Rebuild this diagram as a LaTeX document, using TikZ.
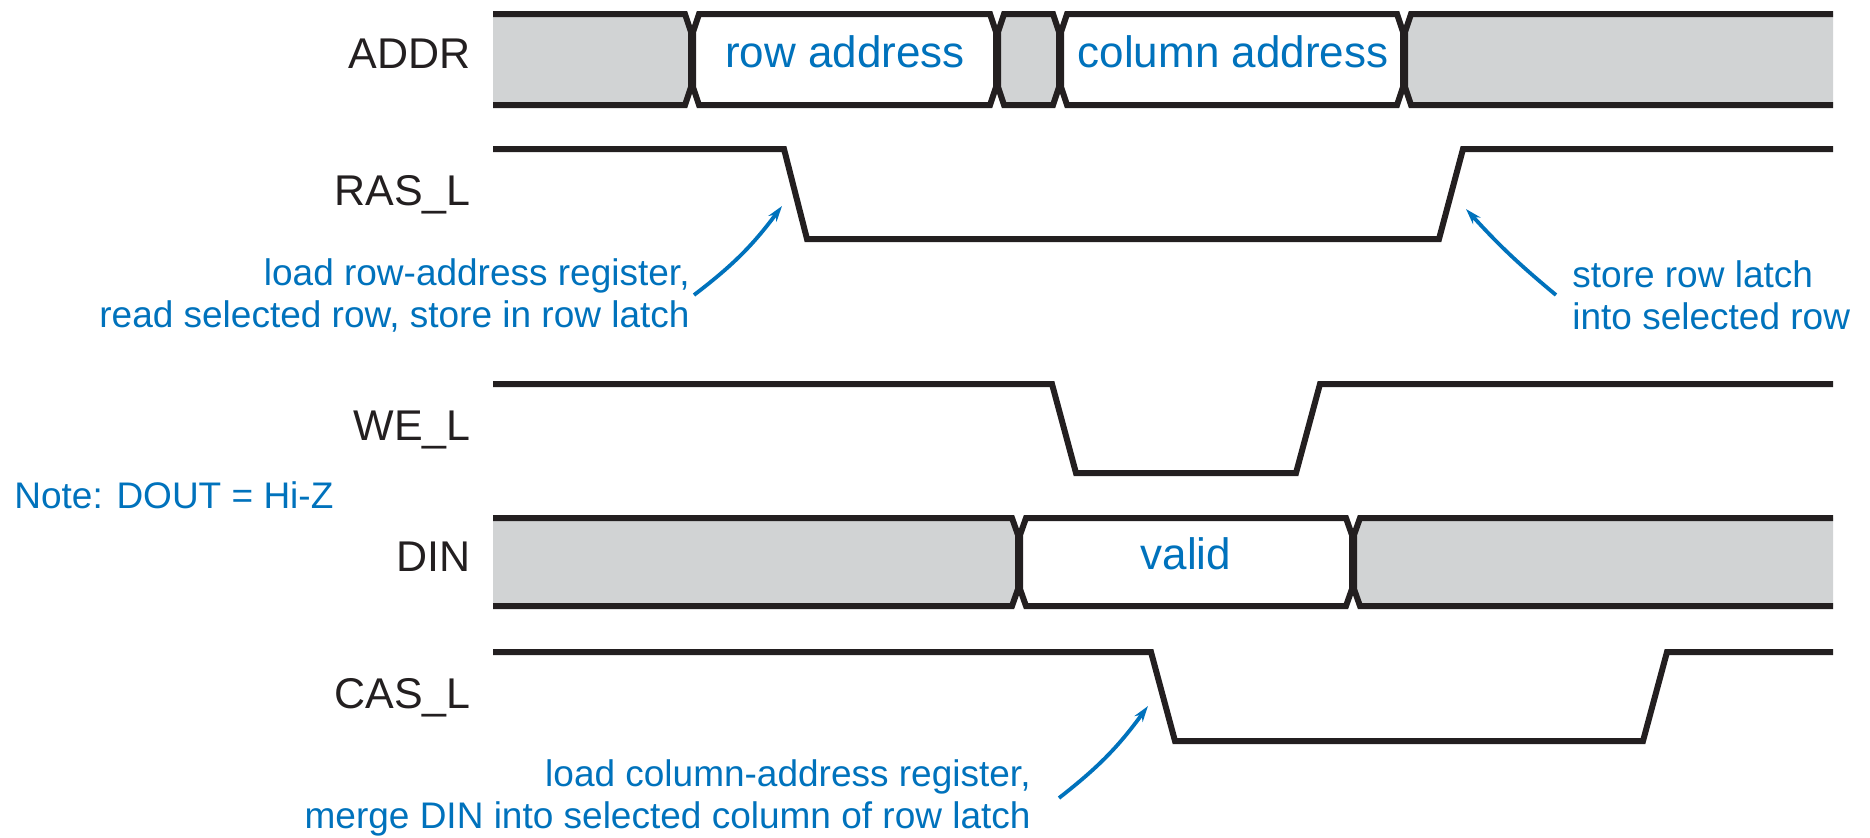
\documentclass[tikz,border=0pt]{standalone}
\usepackage{fontspec}
\setmainfont{Liberation Sans}
\usepackage{xcolor}
\usepackage{tikz}
\usetikzlibrary{arrows.meta, positioning}

\definecolor{annblue}{RGB}{0,114,188}
\definecolor{busgray}{RGB}{209,211,212}
\definecolor{waveblack}{RGB}{35,31,32}

\begin{document}
\begin{tikzpicture}[x=0.5pt, y=-0.5pt]
\tikzstyle{wave} = [draw=waveblack, line width=3pt]
\tikzstyle{siglabel} = [anchor=base east, inner sep=0pt,
    text=waveblack, font=\fontsize{21.5}{25}\selectfont]
\tikzstyle{bustext} = [anchor=base, inner sep=0pt,
    text=annblue, font=\fontsize{22}{26}\selectfont]
\tikzstyle{annot} = [inner sep=0pt, text=annblue,
    font=\fontsize{18.5}{21}\selectfont]
\tikzstyle{arrow} = [annblue, line width=1.9pt, ->,
    >={Stealth[length=8pt, width=5pt]}]

\useasboundingbox (0,0) rectangle (1870,837);

% --- SIGNAL NAMES ---
\node (addr) [siglabel] at (471,68)  {ADDR};
\node (ras)  [siglabel] at (471,205) {RAS\_L};
\node (we)   [siglabel] at (471,440) {WE\_L};
\node (din)  [siglabel] at (471,571) {DIN};
\node (cas)  [siglabel] at (471,708) {CAS\_L};
\node (note) [annot, anchor=west] at (14,495) {Note: DOUT = Hi-Z};

% --- ADDR BUS ---
\fill[busgray] (493,14) -- (685,14) -- (691,32) -- (691,87) -- (685,105) -- (493,105) -- cycle;
\draw[wave] (493,14) -- (685,14) -- (691,32) -- (691,87) -- (685,105) -- (493,105);
\foreach \a/\b/\c in {692/997/white, 997/1060/busgray, 1060/1404/white}
  \draw[wave, fill=\c] (\a+7,14) -- (\b-7,14) -- (\b-1,32) -- (\b-1,87)
    -- (\b-7,105) -- (\a+7,105) -- (\a+1,87) -- (\a+1,32) -- cycle;
\fill[busgray] (1833,14) -- (1411,14) -- (1405,32) -- (1405,87) -- (1411,105) -- (1833,105) -- cycle;
\draw[wave] (1833,14) -- (1411,14) -- (1405,32) -- (1405,87) -- (1411,105) -- (1833,105);
\node (rowaddr) [bustext] at (845,67)  {row address};
\node (coladdr) [bustext] at (1233,67) {column address};

% --- RAS_L, WE_L ---
\draw[wave] (493,149) -- (784,149) -- (807,239) -- (1439,239) -- (1463,149) -- (1833,149);
\draw[wave] (493,384) -- (1052,384) -- (1076,473) -- (1296,473) -- (1320,384) -- (1833,384);

% --- DIN BUS ---
\fill[busgray] (493,518) -- (1012,518) -- (1018,535) -- (1018,589) -- (1012,606) -- (493,606) -- cycle;
\draw[wave] (493,518) -- (1012,518) -- (1018,535) -- (1018,589) -- (1012,606) -- (493,606);
\draw[wave, fill=white] (1026,518) -- (1346,518) -- (1352,535) -- (1352,589)
    -- (1346,606) -- (1026,606) -- (1020,589) -- (1020,535) -- cycle;
\fill[busgray] (1833,518) -- (1360,518) -- (1354,535) -- (1354,589) -- (1360,606) -- (1833,606) -- cycle;
\draw[wave] (1833,518) -- (1360,518) -- (1354,535) -- (1354,589) -- (1360,606) -- (1833,606);
\node (valid) [bustext] at (1186,569) {valid};

% --- CAS_L ---
\draw[wave] (493,652) -- (1151,652) -- (1175,741) -- (1643,741) -- (1667,652) -- (1833,652);

% --- ANNOTATIONS ---
\node (loadrow) [annot, anchor=east, align=right] at (690,295)
    {load row-address register,\\read selected row, store in row latch};
\node (storerow) [annot, anchor=west, align=left] at (1572,295)
    {store row latch\\into selected row};
\node (loadcol) [annot, anchor=east, align=right] at (1031,798)
    {load column-address register,\\merge DIN into selected column of row latch};
\coordinate (rasfall) at (782,206);
\coordinate (rasrise) at (1466,209);
\coordinate (casfall) at (1148,706);

\draw [arrow] ([xshift=2pt]loadrow.east) to[bend right=8] (rasfall);
\draw [arrow] ([xshift=-8pt]storerow.west) to[bend left=4] (rasrise);
\draw [arrow] ([xshift=14pt]loadcol.east) to[bend right=8] (casfall);
\end{tikzpicture}
\end{document}
